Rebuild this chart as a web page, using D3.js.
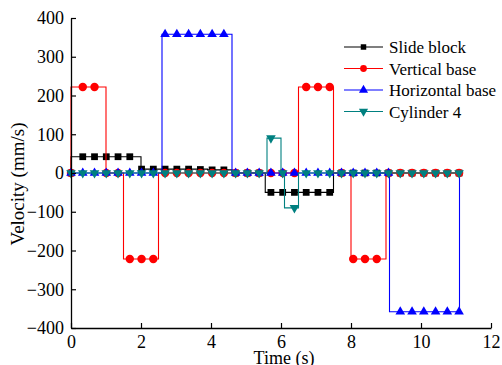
<!DOCTYPE html>
<html>
<head>
<meta charset="utf-8">
<script src="https://cdn.jsdelivr.net/npm/d3@7"></script>
<style>
  body { margin: 0; background: #fff; }
  svg { display: block; font-family: "Liberation Serif", "Times New Roman", serif; }
  svg text { font-family: "Liberation Serif", "Times New Roman", serif; }
</style>
</head>
<body>
<svg id="chart" width="502" height="365"></svg>
<script>
// sample times where markers sit (s)
const sampleTimes = [0, 0.336, 0.672, 1.008, 1.344, 1.68, 2.016, 2.352, 2.688, 3.024, 3.36, 3.696,
  4.032, 4.368, 4.704, 5.04, 5.376, 5.712, 6.048, 6.384, 6.72, 7.056, 7.392, 7.728, 8.064, 8.4,
  8.736, 9.072, 9.408, 9.744, 10.08, 10.416, 10.752, 11.088];

// marker values per series (mm/s)
const slideMarks = [0, 42, 42, 42, 42, 42, 10, 10, 10, 10, 10, 9, 8, 8, 0, 0, 0,
  -50, -50, -50, -50, -50, -50, 0, 0, 0, 0, 0, 0, 0, 0, 0, 0, 0];
const verticalMarks = [0, 222, 222, 0, 0, -222, -222, -222, 0, 0, 0, 0, 0, 0, 0, 0, 0,
  0, 0, 0, 222, 222, 222, 0, -222, -222, -222, 0, 0, 0, 0, 0, 0, 0];
const horizontalMarks = [0, 0, 0, 0, 0, 0, 0, 0, 358, 358, 358, 358, 358, 358, 0, 0, 0,
  0, 0, 0, 0, 0, 0, 0, 0, 0, 0, 0, -358, -358, -358, -358, -358, -358];
const cylinderMarks = [0, 0, 0, 0, 0, 0, 0, 0, 0, 0, 0, 0, 0, 0, 0, 0, 0,
  90, 0, -90, 0, 0, 0, 0, 0, 0, 0, 0, 0, 0, 0, 0, 0, 0];

// step breakpoints: value holds from t[i] until t[i+1]
const slideStepT = [0, 0, 2.0, 3.9, 4.6, 5.55, 7.5, 11.1];
const slideStepV = [0, 42, 10, 8, 0, -50, 0, 0];
const verticalStepT = [0, 0, 1.0, 1.5, 2.5, 6.5, 7.5, 8.0, 9.0, 11.1];
const verticalStepV = [0, 222, 0, -222, 0, 222, 0, -222, 0, 0];
const horizontalStepT = [0, 2.6, 4.6, 9.1, 11.1];
const horizontalStepV = [0, 358, 0, -358, 0];
const cylinderStepT = [0, 5.6, 6.0, 6.1, 6.5, 11.1];
const cylinderStepV = [0, 90, 0, -90, 0, 0];

const xTicks = [0, 2, 4, 6, 8, 10, 12];
const yTicks = [-400, -300, -200, -100, 0, 100, 200, 300, 400];

const series = [
  { name: 'Slide block', color: '#000000', symbol: d3.symbolSquare, size: 46, rot: 0, legendSize: 30,
    stepT: slideStepT, stepV: slideStepV, marks: slideMarks },
  { name: 'Vertical base', color: '#ff0000', symbol: d3.symbolCircle, size: 56, rot: 0, legendSize: 36,
    stepT: verticalStepT, stepV: verticalStepV, marks: verticalMarks },
  { name: 'Horizontal base', color: '#0000ff', symbol: d3.symbolTriangle, size: 40, rot: 0, legendSize: 36,
    stepT: horizontalStepT, stepV: horizontalStepV, marks: horizontalMarks },
  { name: 'Cylinder 4', color: '#008080', symbol: d3.symbolTriangle, size: 40, rot: 180, legendSize: 36,
    stepT: cylinderStepT, stepV: cylinderStepV, marks: cylinderMarks },
];

const margin = { top: 18, right: 11, bottom: 37, left: 71 };
const width = 502 - margin.left - margin.right;
const height = 365 - margin.top - margin.bottom;

const svg = d3.select('#chart');
const g = svg.append('g').attr('transform', `translate(${margin.left},${margin.top})`);

const x = d3.scaleLinear().domain([0, 12]).range([0, width]);
const y = d3.scaleLinear().domain([-400, 400]).range([height, 0]);

// series
const line = d3.line().x(d => x(d[0])).y(d => y(d[1])).curve(d3.curveStepAfter);

series.forEach(s => {
  const pts = s.stepT.map((t, i) => [t, s.stepV[i]]);
  g.append('path')
    .datum(pts)
    .attr('fill', 'none')
    .attr('stroke', s.color)
    .attr('stroke-width', 1.1)
    .attr('d', line);

  g.selectAll(null)
    .data(sampleTimes.map((t, i) => [t, s.marks[i]]))
    .enter()
    .append('path')
    .attr('transform', d => `translate(${x(d[0])},${y(d[1])}) rotate(${s.rot})`)
    .attr('d', d3.symbol().type(s.symbol).size(s.size))
    .attr('fill', s.color);
});

// axes
const xAxis = g.append('g')
  .attr('transform', `translate(0,${height})`)
  .call(d3.axisBottom(x).tickValues(xTicks).tickSizeInner(-5).tickSizeOuter(0).tickPadding(7));
const yAxis = g.append('g')
  .call(d3.axisLeft(y).tickValues(yTicks).tickSizeInner(-5).tickSizeOuter(0).tickPadding(7));

[xAxis, yAxis].forEach(a => {
  a.attr('font-family', null);
  a.select('.domain').attr('stroke', '#000').attr('stroke-width', 1.3);
  a.selectAll('.tick line').attr('stroke', '#000').attr('stroke-width', 1.2);
  a.selectAll('.tick text')
    .attr('fill', '#000')
    .style('font-size', '18px');
});

// axis titles
svg.append('text')
  .attr('x', margin.left + x(6) + 3)
  .attr('y', 364)
  .attr('text-anchor', 'middle')
  .style('font-size', '18px')
  .text('Time (s)');

svg.append('text')
  .attr('transform', 'translate(24,184) rotate(-90)')
  .attr('text-anchor', 'middle')
  .style('font-size', '19px')
  .text('Velocity (mm/s)');

// legend
const legend = svg.append('g').attr('transform', 'translate(344,47)');
series.forEach((s, i) => {
  const row = legend.append('g').attr('transform', `translate(0,${i * 21.5})`);
  row.append('line')
    .attr('x1', 0).attr('x2', 39)
    .attr('stroke', s.color).attr('stroke-width', 1.1);
  row.append('path')
    .attr('transform', `translate(19.5,0) rotate(${s.rot})`)
    .attr('d', d3.symbol().type(s.symbol).size(s.legendSize))
    .attr('fill', s.color);
  row.append('text')
    .attr('x', 45)
    .attr('y', 6)
    .style('font-size', '17px')
    .text(s.name);
});
</script>
</body>
</html>
